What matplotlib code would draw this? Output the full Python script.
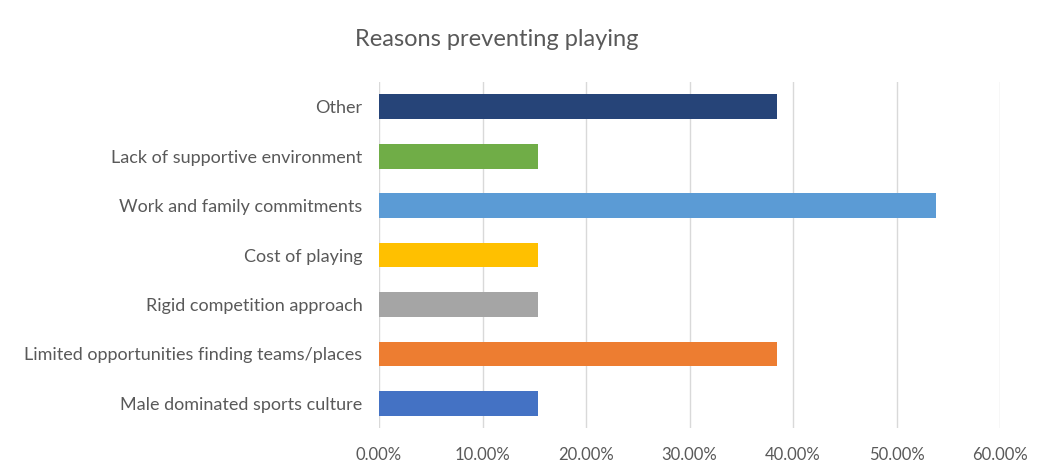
import matplotlib
matplotlib.use("Agg")
import matplotlib.pyplot as plt
from matplotlib.ticker import FuncFormatter

categories = ["Male dominated sports culture",
              "Limited opportunities finding teams/places",
              "Rigid competition approach",
              "Cost of playing",
              "Work and family commitments",
              "Lack of supportive environment",
              "Other"]
values = [15.38, 38.46, 15.38, 15.38, 53.85, 15.38, 38.46]
colors = ["#4472C4", "#ED7D31", "#A5A5A5", "#FFC000", "#5B9BD5", "#70AD47", "#264478"]
xticks = [0, 10, 20, 30, 40, 50, 60]
title = "Reasons preventing playing"

plt.rcParams['font.family'] = ['Lato', 'DejaVu Sans']
fig = plt.figure(figsize=(10.41, 4.65), dpi=100)
ax = fig.add_axes([379/1041, (465-428)/465, (1000-379)/1041, (428-82)/465])
y = list(range(len(categories)))
ax.barh(y, values, height=0.5, color=colors, zorder=3)
ax.set_yticks(y)
ax.set_yticklabels(categories, fontsize=13)
ax.set_ylim(-0.5, len(categories)-0.5)
ax.set_xlim(0, 60)
ax.set_xticks(xticks)
ax.xaxis.set_major_formatter(FuncFormatter(lambda v, p: f"{v:.2f}%"))
ax.grid(axis='x', color='#D9D9D9', linewidth=1, zorder=0)
for s in ax.spines.values():
    s.set_visible(False)
ax.tick_params(length=0, colors='#595959')
ax.tick_params(axis='x', labelsize=12, pad=14)
ax.tick_params(axis='y', pad=12)
fig.text(497/1041, (465-40)/465, title, ha='center', va='center', fontsize=17, color='#595959')
fig.savefig("out.png", dpi=100)
